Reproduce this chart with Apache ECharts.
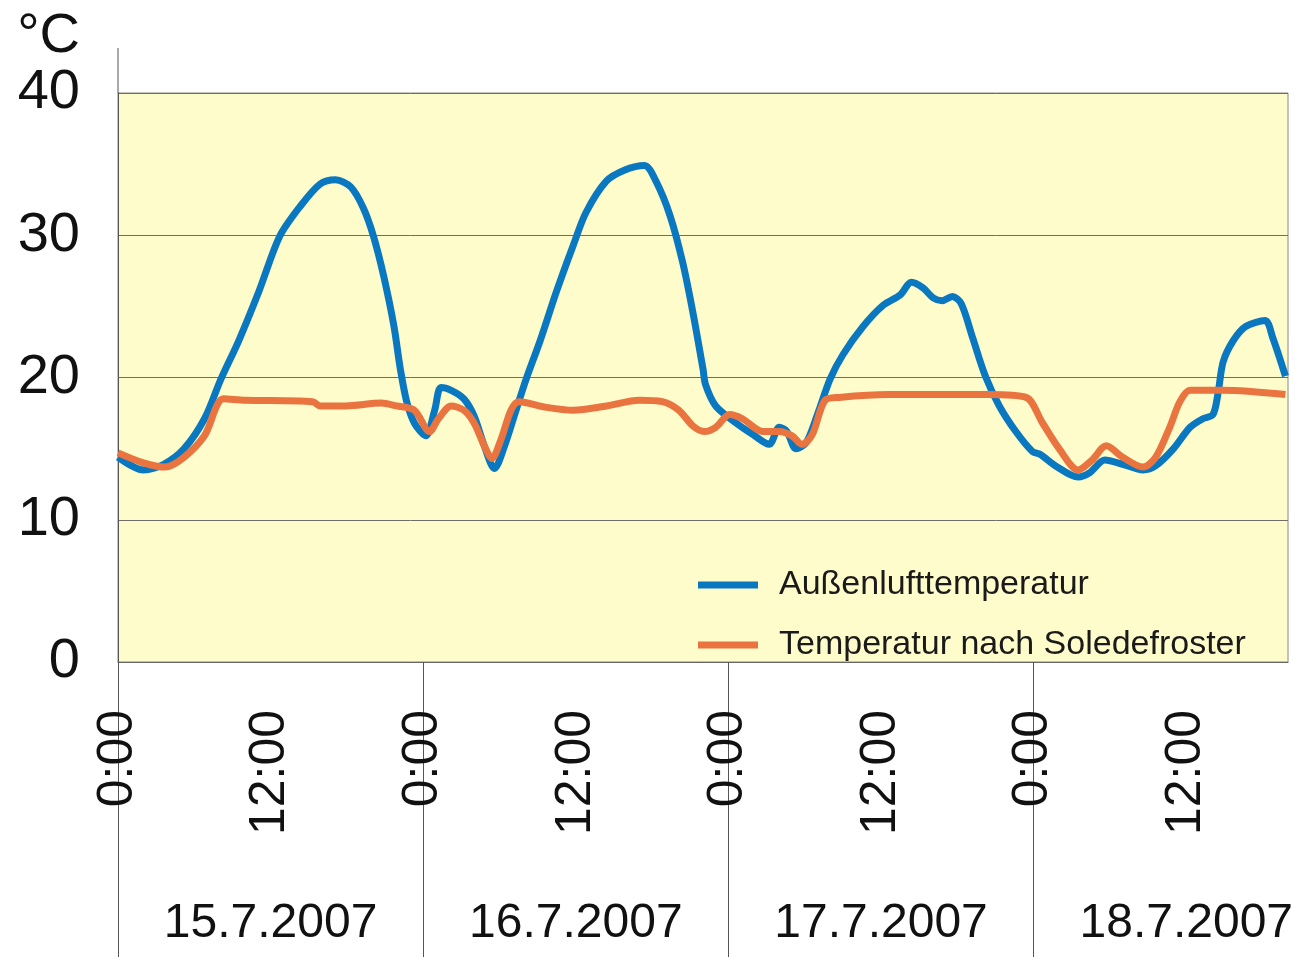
<!DOCTYPE html>
<html>
<head>
<meta charset="utf-8">
<script src="https://cdn.jsdelivr.net/npm/echarts@6/dist/echarts.min.js"></script>
<style>html,body{margin:0;padding:0;background:#fff}#c{width:1293px;height:957px}</style>
</head>
<body>
<div id="c"></div>
<script>
// hours since 15.7.2007 0:00
const blueHours = [0,2.0,3.6,5.2,6.8,8.1,9.5,11.1,12.7,14.3,15.9,17.1,18.3,19.3,20.1,20.9,21.7,22.2,22.7,23.3,24.2,24.9,25.4,26.2,27.2,28.0,28.8,29.6,30.4,31.3,32.1,33.2,34.5,35.8,36.8,38.4,39.9,41.4,42.3,43.4,44.4,45.2,46.0,46.2,47.0,48.6,49.9,51.2,52.0,52.6,53.3,54.1,55.0,56.0,57.0,58.6,60.2,61.5,62.4,63.3,64.1,64.8,65.6,66.3,67.2,68.2,69.3,70.6,71.9,72.5,73.7,75.5,76.4,77.6,79.0,80.6,81.6,83.0,84.3,85.3,86.1,86.5,86.9,87.7,88.7,90.2,90.8,91.8];
const blueTemps = [14.4,13.5,13.9,15.0,17.1,19.9,22.6,26.1,29.9,32.0,33.6,33.9,33.4,31.9,29.9,27.1,23.6,20.6,18.3,16.8,15.9,17.7,19.3,19.1,18.5,17.3,15.2,13.6,15.2,17.7,19.9,22.6,26.1,29.3,31.6,33.8,34.6,34.9,33.8,31.4,28.1,24.6,20.6,19.5,18.0,16.8,16.0,15.3,16.5,16.2,15.0,15.4,17.4,19.9,21.6,23.6,25.1,25.8,26.7,26.3,25.6,25.4,25.7,25.2,22.8,20.1,18.0,16.2,14.8,14.6,13.8,13.0,13.3,14.2,13.9,13.5,13.8,15.0,16.5,17.1,17.4,18.9,21.1,22.6,23.6,24.0,22.8,20.1];
const orangeHours = [0,2.0,3.7,5.2,6.8,8.3,10.0,15.3,15.9,17.9,20.7,21.9,23.3,24.5,25.2,26.2,27.2,28.0,28.8,29.4,30.1,30.9,31.5,33.7,35.8,38.4,41.0,42.8,44.1,45.2,46.1,47.0,48.1,49.1,50.7,52.0,53.0,53.8,54.6,55.6,56.7,60.6,64.6,68.5,71.4,72.7,74.0,75.5,76.6,77.7,79.0,80.6,81.6,82.7,83.5,84.3,86.9,91.8];
const orangeTemps = [14.7,14.0,13.7,14.4,15.9,18.5,18.4,18.3,18.0,18.0,18.2,18.0,17.7,16.2,17.1,18.0,17.7,16.8,15.2,14.3,15.6,17.7,18.3,17.9,17.7,18.0,18.4,18.3,17.7,16.6,16.2,16.5,17.4,17.1,16.2,16.2,15.9,15.3,16.0,18.4,18.6,18.8,18.8,18.8,18.6,16.8,15.0,13.5,14.2,15.2,14.4,13.7,14.4,16.5,18.3,19.1,19.1,18.8];
const timeTicks = [0,12,24,36,48,60,72,84];
const dayTicks = [0,24,48,72];
const dateTicks = [12,36,60,84];
const dateLabels = ['15.7.2007','16.7.2007','17.7.2007','18.7.2007'];
const seriesNames = ['Außenlufttemperatur','Temperatur nach Soledefroster'];
const yTicks = [0,10,20,30,40];

const pair = (xs, ys) => xs.map((x, i) => [x, ys[i]]);
const FONT = "'Liberation Sans', Arial, sans-serif";

const chart = echarts.init(document.getElementById('c'), null, {renderer: 'canvas'});
chart.setOption({
  animation: false,
  backgroundColor: '#ffffff',
  grid: {left: 118, right: 5, top: 93, bottom: 295, outerBoundsMode: 'none', containLabel: false,
         show: true, backgroundColor: '#FEFCCB', borderWidth: 1, borderColor: '#8a8a80'},
  graphic: [{type: 'line', shape: {x1: 118, y1: 48, x2: 118, y2: 93}, style: {stroke: '#555', lineWidth: 1}}],
  legend: {
    orient: 'vertical', left: 693, top: 562, itemWidth: 60, itemHeight: 7, itemGap: 24, icon: 'rect',
    textStyle: {fontFamily: FONT, fontSize: 34, color: '#1a1a1a', lineHeight: 36, padding: [0, 0, 0, 16]},
    data: seriesNames
  },
  xAxis: [
    {
      type: 'value', min: 0, max: 92, gridIndex: 0, position: 'bottom',
      axisLine: {show: true, lineStyle: {color: '#666', width: 1}},
      axisTick: {show: true, customValues: dayTicks, length: 295, inside: false, lineStyle: {color: '#555', width: 1}},
      splitLine: {show: false},
      axisLabel: {
        customValues: timeTicks, rotate: 90, margin: 48, fontSize: 50, fontFamily: FONT, color: '#111',
        formatter: v => (v % 24 === 0 ? '0:00' : '12:00')
      }
    },
    {
      type: 'value', min: 0, max: 92, gridIndex: 0, position: 'bottom',
      axisLine: {show: false}, axisTick: {show: false}, splitLine: {show: false},
      axisLabel: {
        customValues: dateTicks, margin: 238, fontSize: 48, fontFamily: FONT, color: '#111',
        formatter: v => dateLabels[dateTicks.indexOf(v)] || ''
      }
    }
  ],
  yAxis: {
    type: 'value', min: 0, max: 40, interval: 10,
    name: '°C', nameLocation: 'end', nameGap: 28,
    nameTextStyle: {fontSize: 56, fontFamily: FONT, color: '#111', align: 'right', padding: [0, 38, 0, 0]},
    axisLine: {show: true, lineStyle: {color: '#555', width: 1}},
    axisTick: {show: false},
    splitLine: {show: true, lineStyle: {color: '#6e6e66', width: 1}},
    axisLabel: {customValues: yTicks, margin: 38, fontSize: 56, fontFamily: FONT, color: '#111'}
  },
  series: [
    {name: seriesNames[0], type: 'line', xAxisIndex: 0, data: pair(blueHours, blueTemps), showSymbol: false, smooth: 0.3,
     lineStyle: {color: '#0A77C1', width: 7}, itemStyle: {color: '#0A77C1'}, z: 3},
    {name: seriesNames[1], type: 'line', xAxisIndex: 0, data: pair(orangeHours, orangeTemps), showSymbol: false, smooth: 0.3,
     lineStyle: {color: '#E97440', width: 7}, itemStyle: {color: '#E97440'}, z: 4}
  ]
});
</script>
</body>
</html>
